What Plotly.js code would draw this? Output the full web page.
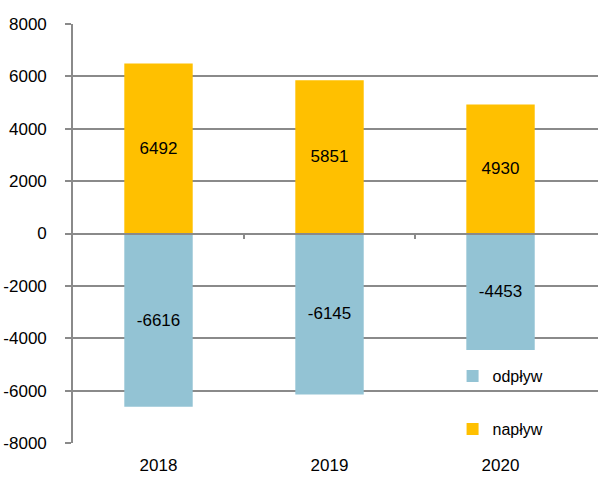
<!DOCTYPE html>
<html>
<head>
<meta charset="utf-8">
<script src="https://cdn.plot.ly/plotly-3.0.1.min.js"></script>
<style>
  html, body { margin: 0; padding: 0; background: #fff; }
  #chart { width: 598px; height: 478px; }
</style>
</head>
<body>
<div id="chart"></div>
<script>
// --- Data ---
const years = ['2018', '2019', '2020'];
const odplyw = [-6616, -6145, -4453];
const naplyw = [6492, 5851, 4930];
const yTicks = [-8000, -6000, -4000, -2000, 0, 2000, 4000, 6000, 8000];
const dividers = [0.5, 1.5]; // category boundaries marked on the zero line

const font = { family: 'Liberation Sans, Arial, sans-serif', size: 17, color: '#000' };
const gridColor = '#8a8a8a';

const traces = [
    {
        x: years, y: odplyw, name: 'odpływ', type: 'bar', legendgroup: 'a',
        marker: { color: '#93c3d4' },
        text: odplyw.map(String), textposition: 'inside', insidetextanchor: 'middle',
        textfont: font, hoverinfo: 'x+y'
    },
    {
        x: years, y: naplyw, name: 'napływ', type: 'bar', legendgroup: 'b',
        marker: { color: '#ffc000' },
        text: naplyw.map(String), textposition: 'inside', insidetextanchor: 'middle',
        textfont: font, hoverinfo: 'x+y'
    },
    // dummy trace so xaxis2 (zero line with ticks) gets drawn
    { x: years.map((_, i) => i), y: years.map(() => null), xaxis: 'x2', type: 'scatter',
      mode: 'markers', showlegend: false, hoverinfo: 'skip' }
];

const xRange = [-0.5, 2.57];

const layout = {
    width: 598, height: 478,
    margin: { l: 73, r: 0, t: 24, b: 35 },
    paper_bgcolor: '#fff', plot_bgcolor: '#fff',
    font: font,
    barmode: 'relative', bargap: 0.6,
    showlegend: true,
    legend: {
        x: 0.723, y: 0.2, xanchor: 'left', yanchor: 'top',
        traceorder: 'grouped', tracegroupgap: 29, itemwidth: 30,
        font: { ...font, size: 16 }, bgcolor: 'rgba(0,0,0,0)'
    },
    xaxis: {
        type: 'category', range: xRange,
        showline: false, showgrid: false, zeroline: false, ticks: '',
        ticklabelstandoff: 10, tickfont: font
    },
    xaxis2: {
        type: 'linear', range: xRange, overlaying: 'x', anchor: 'free', position: 0.5,
        showline: true, linecolor: gridColor, linewidth: 1.6,
        tickmode: 'array', tickvals: dividers,
        ticks: 'outside', ticklen: 5, tickcolor: gridColor, tickwidth: 1.5,
        showticklabels: false, showgrid: false, zeroline: false
    },
    yaxis: {
        range: [-8000, 8000],
        tickmode: 'array', tickvals: yTicks, ticktext: yTicks.map(String),
        showgrid: true, gridcolor: gridColor, gridwidth: 1.5,
        zeroline: false,
        showline: true, linecolor: gridColor, linewidth: 1.6,
        ticks: 'outside', ticklen: 6, tickcolor: gridColor, tickwidth: 1.5,
        ticklabelstandoff: 15, tickfont: font
    }
};

Plotly.newPlot('chart', traces, layout, { displayModeBar: false, responsive: false });
</script>
</body>
</html>
